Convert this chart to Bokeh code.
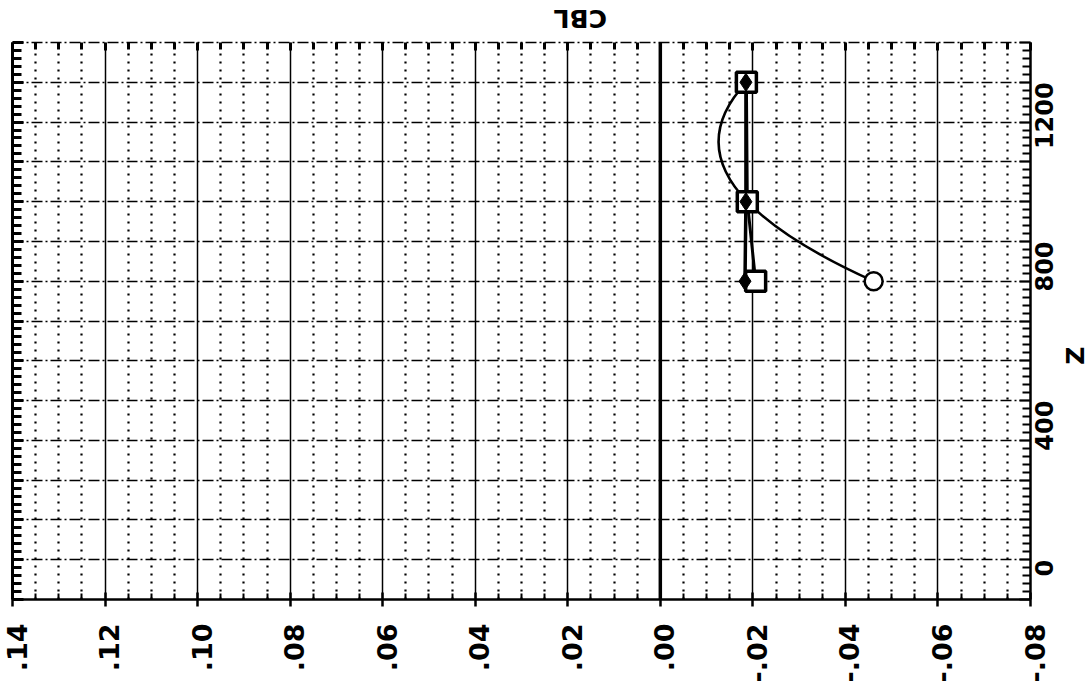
import numpy as np
from math import pi
from bokeh.plotting import figure
from bokeh.layouts import column, row
from bokeh.models import Range1d, FixedTicker, LinearAxis, Span, ColumnDataSource
from bokeh.core.properties import value
from bokeh.embed import file_html
from bokeh.resources import INLINE

# ---------------- data ----------------
z_levels = [700, 900, 1200]
cbl_circle = [-0.0461, -0.0188, -0.0186]
cbl_square = [-0.0206, -0.0188, -0.0186]
cbl_diamond = [-0.0183, -0.0185, -0.0185]

x_tick_values = [0.14, 0.12, 0.10, 0.08, 0.06, 0.04, 0.02, 0.0, -0.02, -0.04, -0.06, -0.08]
x_tick_labels = [".14", ".12", ".10", ".08", ".06", ".04", ".02", ".00",
                 "-.02", "-.04", "-.06", "-.08"]
z_tick_values = [0, 400, 800, 1200]
z_tick_labels = ["0", "400", "800", "1200"]
x_label = "CBL"
z_label = "Z"

X_LEFT, X_RIGHT = 0.14, -0.08
Z_MIN, Z_MAX = -100, 1300

# grid / tick positions
x_minor = [round(v, 3) for v in np.arange(-0.08, 0.1401, 0.005)
           if min(abs(round(v, 3) - t) for t in x_tick_values) > 1e-6]
z_grid = list(range(Z_MIN, Z_MAX + 1, 100))
z_minor = [v for v in range(Z_MIN, Z_MAX + 1, 20) if v % 100 != 0]

FONT = "DejaVu Sans"

# layout sizes (px)
PAGE_W = 1090
LEFT_B, TOP_B, BOTTOM_B = 12, 6, 9
FRAME_W, FRAME_H = 1018, 557
MAIN_RIGHT_B = 2
TOP_STRIP_H = 36
BOTTOM_STRIP_H = 90
MAIN_W = LEFT_B + FRAME_W + MAIN_RIGHT_B
MAIN_H = TOP_B + FRAME_H + BOTTOM_B
SIDE_W = PAGE_W - MAIN_W

x_range = Range1d(X_LEFT, X_RIGHT)
z_range = Range1d(Z_MIN, Z_MAX)

p = figure(width=MAIN_W, height=MAIN_H, x_range=x_range, y_range=z_range,
           output_backend="svg", toolbar_location=None,
           min_border_left=LEFT_B, min_border_right=MAIN_RIGHT_B,
           min_border_top=TOP_B, min_border_bottom=BOTTOM_B)
p.outline_line_color = None
p.background_fill_color = "white"

# grids
xg = p.xgrid[0]
xg.ticker = FixedTicker(ticks=x_tick_values, minor_ticks=x_minor)
xg.grid_line_color = "black"
xg.grid_line_width = 1.5
xg.minor_grid_line_color = "black"
xg.minor_grid_line_width = 2.2
xg.minor_grid_line_dash = "2 6"

yg = p.ygrid[0]
yg.ticker = FixedTicker(ticks=z_grid)
yg.grid_line_color = "black"
yg.grid_line_width = 1.5
yg.grid_line_dash = "11 3 2 3"

# bottom axis (ticks only; labels drawn in the strip below)
xb = p.xaxis[0]
xb.ticker = FixedTicker(ticks=x_tick_values, minor_ticks=x_minor)
xb.major_label_text_font_size = "0px"
xb.major_label_standoff = 0
xb.major_tick_in = 7
xb.major_tick_out = 7
xb.minor_tick_in = 6
xb.minor_tick_out = 0
xb.axis_line_width = 2.5
xb.axis_line_color = "black"
xb.major_tick_line_width = 2.5
xb.minor_tick_line_width = 2
xb.major_tick_line_color = "black"
xb.minor_tick_line_color = "black"

# left axis (comb of ticks)
yl = p.yaxis[0]
yl.ticker = FixedTicker(ticks=z_grid, minor_ticks=z_minor)
yl.major_label_text_font_size = "0px"
yl.major_label_standoff = 0
yl.major_tick_in = 11
yl.major_tick_out = 0
yl.minor_tick_in = 9
yl.minor_tick_out = 0
yl.axis_line_width = 3
yl.major_tick_line_width = 3
yl.minor_tick_line_width = 3
yl.axis_line_color = "black"
yl.major_tick_line_color = "black"
yl.minor_tick_line_color = "black"

# right axis
yr = LinearAxis(ticker=FixedTicker(ticks=z_grid, minor_ticks=z_minor),
                major_label_text_font_size="0px", major_label_standoff=0,
                major_tick_in=11, major_tick_out=0, minor_tick_in=8, minor_tick_out=0,
                axis_line_width=2.5, major_tick_line_width=2, minor_tick_line_width=2,
                axis_line_color="black", major_tick_line_color="black",
                minor_tick_line_color="black")
p.add_layout(yr, "right")

# top axis (dash-dot border with T ticks)
xa = LinearAxis(ticker=FixedTicker(ticks=x_tick_values, minor_ticks=x_minor),
                major_label_text_font_size="0px", major_label_standoff=0,
                major_tick_in=8, major_tick_out=0, minor_tick_in=7, minor_tick_out=0,
                axis_line_width=1.5, axis_line_dash="11 3 2 3",
                major_tick_line_width=3, minor_tick_line_width=3,
                axis_line_color="black", major_tick_line_color="black",
                minor_tick_line_color="black")
p.add_layout(xa, "above")

# zero line
p.add_layout(Span(location=0, dimension="height", line_color="black", line_width=3.5))

# ---------------- series ----------------
src = ColumnDataSource(dict(z=z_levels, a=cbl_circle, b=cbl_square, c=cbl_diamond))

p.line("c", "z", source=src, line_width=3.5, line_color="black")
p.line("b", "z", source=src, line_width=3, line_color="black")

# smooth curve through the circle series (parabola through its points, drawn as Bezier segments)
coef = np.polyfit(z_levels, cbl_circle, 2)
dcoef = np.polyder(coef)
z0 = np.array(z_levels[:-1], dtype=float)
z1 = np.array(z_levels[1:], dtype=float)
c0 = np.array(cbl_circle[:-1])
c1 = np.array(cbl_circle[1:])
cx = c0 + np.polyval(dcoef, z0) * (z1 - z0) / 2.0
cy = (z0 + z1) / 2.0
p.quadratic(x0=c0, y0=z0, x1=c1, y1=z1, cx=cx, cy=cy, line_color="black", line_width=2.5)

p.scatter("a", "z", source=src, marker="circle", size=18, fill_color="white",
          line_color="black", line_width=2.5)
p.scatter("b", "z", source=src, marker="square", size=20, fill_color="white",
          line_color="black", line_width=3.5)
p.scatter("c", "z", source=src, marker="diamond", size=18, fill_color="black",
          line_color="black", line_width=1)


def strip(width, height, xr, yr_, top=0, bottom=0):
    s = figure(width=width, height=height, x_range=xr, y_range=yr_,
               output_backend="svg", toolbar_location=None,
               x_axis_location=None, y_axis_location=None,
               min_border=0, min_border_left=0, min_border_right=0,
               min_border_top=top, min_border_bottom=bottom)
    s.outline_line_color = None
    s.xgrid.visible = False
    s.ygrid.visible = False
    s.background_fill_color = "white"
    return s


# the top and bottom strips span the full page width, so their x range is the
# main range widened by the main plot's side borders (same px per unit).
per_px = (X_LEFT - X_RIGHT) / FRAME_W
wide_x_range = Range1d(X_LEFT + per_px * LEFT_B,
                       X_RIGHT - per_px * (PAGE_W - LEFT_B - FRAME_W))

# top strip: "CBL" (upside-down, as in the reference)
top = strip(PAGE_W, TOP_STRIP_H, wide_x_range, Range1d(0, TOP_STRIP_H))
top.text(x=[0.0173], y=[18], text=[x_label], angle=pi, text_align="center",
         text_baseline="middle", text_font=value(FONT), text_font_style="bold",
         text_font_size="25px", text_color="black")

# right strip: Z tick labels and axis title
side = strip(SIDE_W, MAIN_H, Range1d(0, SIDE_W), z_range, top=TOP_B, bottom=BOTTOM_B)
zsrc = ColumnDataSource(dict(x=[11.5] * len(z_tick_values), y=z_tick_values, t=z_tick_labels))
side.text(x="x", y="y", text="t", source=zsrc, angle=pi / 2, text_align="right",
          text_baseline="middle", text_font=value(FONT), text_font_style="bold",
          text_font_size="24px", text_color="black")
side.text(x=[43], y=[513], text=[z_label], angle=pi / 2, text_align="center",
          text_baseline="middle", text_font=value(FONT), text_font_style="bold",
          text_font_size="25px", text_color="black")

# bottom strip: CBL tick labels (vertical, ending just under the axis)
bottom = strip(PAGE_W, BOTTOM_STRIP_H, wide_x_range, Range1d(0, BOTTOM_STRIP_H))
bsrc = ColumnDataSource(dict(x=x_tick_values, y=[BOTTOM_STRIP_H - 15] * len(x_tick_values),
                             t=x_tick_labels))
bottom.text(x="x", y="y", text="t", source=bsrc, angle=pi / 2, text_align="right",
            text_baseline="middle", x_offset=4, text_font=value(FONT),
            text_font_style="bold", text_font_size="27px", text_color="black")

layout = column(top, row(p, side), bottom)
open("out.html", "w").write(file_html(layout, INLINE))
